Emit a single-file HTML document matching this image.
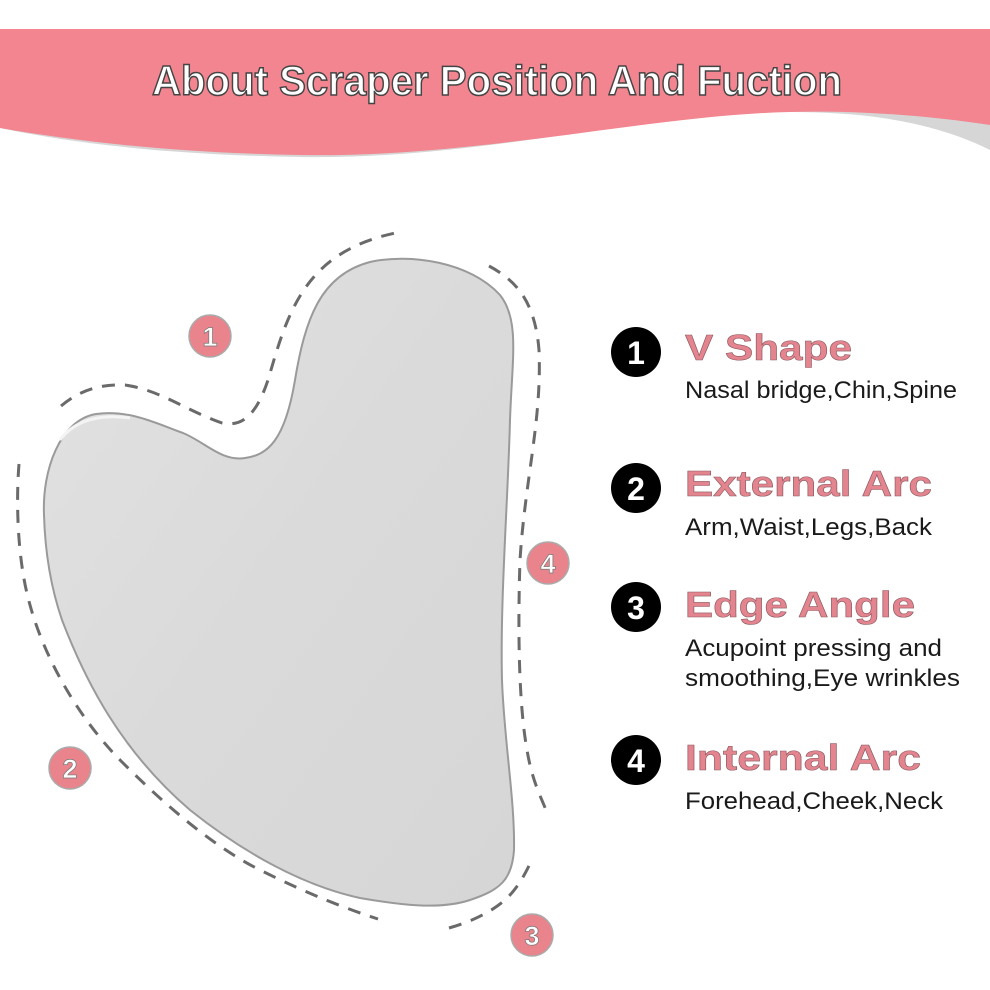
<!DOCTYPE html>
<html><head><meta charset="utf-8"><style>html,body{margin:0;padding:0;background:#fff}svg{display:block}</style></head>
<body>
<svg width="990" height="990" viewBox="0 0 990 990" xmlns="http://www.w3.org/2000/svg">
<defs>
<linearGradient id="g" x1="0" y1="0" x2="1" y2="1">
<stop offset="0" stop-color="#e2e2e2"/><stop offset="0.5" stop-color="#dadada"/><stop offset="1" stop-color="#d6d6d6"/>
</linearGradient>
</defs>
<rect width="990" height="990" fill="#fff"/>
<path d="M0,29 H990 V150 C930,120 860,112 790,112 C650,112 480,160 300,157 C180,155 80,145 0,128 Z" fill="#d6d6d6"/>
<path d="M0,29 H990 V125 C930,116 860,110 790,112 C650,115 480,158 300,155 C180,153 80,142 0,128 Z" fill="#f2858f"/>
<text x="497" y="95" text-anchor="middle" textLength="690" lengthAdjust="spacingAndGlyphs" font-family="Liberation Sans, sans-serif" font-size="42" font-weight="bold" fill="#fff" stroke="#444" stroke-width="1.5">About Scraper Position And Fuction</text>
<path d="M44,515 C42,470 60,420 96,414 C130,409 160,425 183,433 C205,442 222,462 245,458 C268,455 285,440 295,380 C305,320 320,275 370,262 C410,253 470,262 500,295 C520,320 512,360 510,420 C508,500 500,600 502,680 C504,740 515,800 514,850 C512,880 500,890 470,900 C440,910 400,905 360,898 C300,885 240,850 190,810 C120,750 85,680 62,620 C50,585 45,550 44,515 Z" fill="url(#g)" stroke="#9a9a9a" stroke-width="2"/>
<path d="M60,440 C75,420 100,414 130,418" fill="none" stroke="#f4f4f4" stroke-width="3"/>
<g fill="none" stroke="#6a6a6a" stroke-width="3" stroke-dasharray="13,10">
<path d="M61,406 C80,390 100,384 125,385 C160,390 185,410 222,423 C245,428 258,410 268,380 C280,340 292,290 332,260 C355,243 380,236 400,232"/>
<path d="M489,266 C515,280 535,300 539,350 C542,420 525,480 520,560 C518,620 518,700 527,750 C532,780 540,795 546,810"/>
<path d="M19,464 C16,500 17,560 30,605 C45,660 80,720 122,762 C160,800 210,845 260,870 C310,895 350,910 378,919"/>
<path d="M449,928 C470,922 490,913 505,900 C518,888 526,873 533,857"/>
</g>
<g font-family="Liberation Sans, sans-serif" font-size="27" font-weight="bold" fill="#fff" stroke="#777" stroke-width="0.7" text-anchor="middle">
<circle cx="210" cy="336" r="21" fill="#e9838c" stroke="#aaa" stroke-width="1.5"/><text x="210" y="346">1</text>
<circle cx="70" cy="768" r="21" fill="#e9838c" stroke="#aaa" stroke-width="1.5"/><text x="70" y="778">2</text>
<circle cx="532" cy="935" r="21" fill="#e9838c" stroke="#aaa" stroke-width="1.5"/><text x="532" y="945">3</text>
<circle cx="548" cy="563" r="21" fill="#e9838c" stroke="#aaa" stroke-width="1.5"/><text x="548" y="573">4</text>
</g>
<g font-family="Liberation Sans, sans-serif" font-weight="bold" font-size="32" fill="#fff" text-anchor="middle">
<circle cx="636" cy="352" r="25" fill="#000"/><text x="636" y="364">1</text>
<circle cx="636" cy="488" r="25" fill="#000"/><text x="636" y="500">2</text>
<circle cx="636" cy="607" r="25" fill="#000"/><text x="636" y="619">3</text>
<circle cx="636" cy="760" r="25" fill="#000"/><text x="636" y="772">4</text>
</g>
<g font-family="Liberation Sans, sans-serif" font-weight="bold" font-size="36" fill="#e3848f" stroke="#8a5a60" stroke-width="0.6">
<text x="685" y="360" textLength="167" lengthAdjust="spacingAndGlyphs">V Shape</text>
<text x="685" y="496" textLength="247" lengthAdjust="spacingAndGlyphs">External Arc</text>
<text x="685" y="617" textLength="230" lengthAdjust="spacingAndGlyphs">Edge Angle</text>
<text x="685" y="770" textLength="236" lengthAdjust="spacingAndGlyphs">Internal Arc</text>
</g>
<g font-family="Liberation Sans, sans-serif" font-size="24" fill="#1a1a1a">
<text x="685" y="398" textLength="272" lengthAdjust="spacingAndGlyphs">Nasal bridge,Chin,Spine</text>
<text x="685" y="535" textLength="247" lengthAdjust="spacingAndGlyphs">Arm,Waist,Legs,Back</text>
<text x="685" y="656" textLength="257" lengthAdjust="spacingAndGlyphs">Acupoint pressing and</text>
<text x="685" y="686" textLength="275" lengthAdjust="spacingAndGlyphs">smoothing,Eye wrinkles</text>
<text x="685" y="809" textLength="258" lengthAdjust="spacingAndGlyphs">Forehead,Cheek,Neck</text>
</g>
</svg>
</body></html>
